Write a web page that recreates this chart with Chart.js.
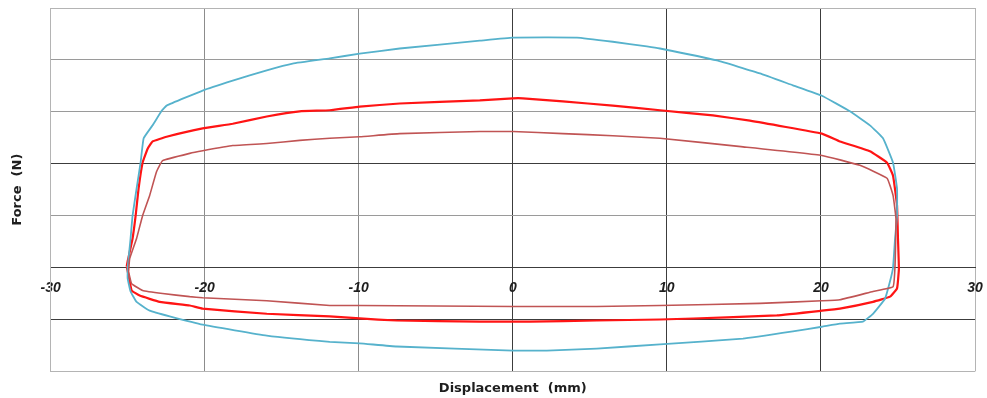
<!DOCTYPE html>
<html>
<head>
<meta charset="utf-8">
<script src="https://cdn.jsdelivr.net/npm/chart.js@4"></script>
<style>
    html, body { margin: 0; padding: 0; background: #fff; }
    #wrap { width: 987px; height: 398px; }
</style>
</head>
<body>
<div id="wrap"><canvas id="loopChart" width="987" height="398"></canvas></div>
<script>
// ===== Data =====
const xTicks = [-30, -20, -10, 0, 10, 20, 30];

// Outer loop (light blue)
const dispCyan = [-25.0, -24.81, -24.68, -24.42, -24.16, -23.96, -23.38, -22.79, -22.47, -20.13, -18.18, -15.97, -14.29, -11.88, -9.94, -7.34, -2.14, 0, 4.16, 6.49, 8.70, 9.55, 13.25, 16.04, 18.18, 20.06, 21.88, 23.18, 24.03, 24.68, 24.94, 24.94, 24.81, 24.68, 24.48, 24.16, 23.38, 22.73, 21.23, 20.06, 18.18, 14.94, 9.55, 5.45, 2.21, 0, -7.53, -9.94, -11.88, -15.97, -20.13, -22.27, -23.57, -24.42, -24.81, -25.0, -25.0];
const forceCyan = [0, 0.56, 1.00, 1.52, 2.02, 2.49, 2.74, 3.02, 3.12, 3.41, 3.60, 3.80, 3.93, 4.03, 4.12, 4.22, 4.37, 4.43, 4.43, 4.35, 4.26, 4.22, 3.99, 3.74, 3.51, 3.31, 3.01, 2.74, 2.49, 2.02, 1.52, 1.00, 0.56, 0, -0.27, -0.60, -0.89, -1.04, -1.08, -1.14, -1.23, -1.37, -1.48, -1.56, -1.60, -1.60, -1.52, -1.46, -1.43, -1.31, -1.10, -0.94, -0.83, -0.66, -0.46, -0.21, 0];

// Middle loop (red)
const dispRed = [-25.06, -25.0, -24.68, -24.48, -24.29, -24.03, -23.70, -23.38, -22.47, -20.13, -18.18, -15.97, -13.83, -11.88, -9.94, -7.34, -2.14, 0, 0.65, 3.25, 6.49, 9.55, 12.99, 15.39, 20.06, 21.23, 23.18, 24.29, 24.68, 24.94, 25.0, 25.06, 24.94, 24.48, 23.38, 21.23, 20.06, 17.14, 13.90, 9.55, 5.45, 1.10, -2.14, -7.53, -9.94, -11.88, -15.97, -20.13, -20.97, -22.92, -24.22, -24.74, -24.94, -25.06];
const forceRed = [0.02, 0.12, 0.56, 1.00, 1.52, 2.02, 2.29, 2.43, 2.52, 2.68, 2.77, 2.91, 3.01, 3.03, 3.10, 3.16, 3.22, 3.26, 3.26, 3.20, 3.12, 3.03, 2.93, 2.83, 2.58, 2.43, 2.24, 2.02, 1.77, 1.19, 0.56, -0.02, -0.40, -0.56, -0.66, -0.79, -0.83, -0.92, -0.96, -1.00, -1.02, -1.04, -1.04, -1.02, -0.98, -0.94, -0.89, -0.79, -0.73, -0.66, -0.54, -0.44, -0.15, 0.02];

// Inner loop (dark red)
const dispDark = [-24.94, -24.87, -24.42, -24.03, -23.57, -23.12, -22.73, -20.97, -20.13, -18.18, -15.97, -13.83, -11.88, -9.94, -7.34, -2.14, 0, 3.25, 6.49, 9.55, 14.81, 20.06, 22.53, 24.29, 24.68, 24.87, 24.81, 24.68, 23.38, 21.23, 20.06, 16.04, 9.55, 5.45, 0, -9.94, -11.88, -15.97, -20.13, -20.97, -22.73, -24.03, -24.74, -24.94];
const forceDark = [-0.08, 0.17, 0.56, 1.00, 1.39, 1.85, 2.06, 2.20, 2.25, 2.35, 2.39, 2.45, 2.49, 2.52, 2.58, 2.62, 2.62, 2.58, 2.54, 2.49, 2.33, 2.16, 1.97, 1.72, 1.39, 0.94, 0.04, -0.37, -0.46, -0.62, -0.64, -0.69, -0.73, -0.75, -0.75, -0.73, -0.73, -0.64, -0.58, -0.56, -0.50, -0.44, -0.31, -0.08];

// ===== Helpers =====
function toPoints(xs, ys) {
    return xs.map((x, i) => ({ x: x, y: ys[i] }));
}

function xGridColor(value) {
    if (value === -30 || value === 30) return '#b4b4b4';
    if (value < 0) return '#8c8c8c';
    return '#3c3c3c';
}

function yGridColor(value) {
    if (value === 5 || value === -2) return '#b4b4b4';
    if (value === 2 || value === 0 || value === -1) return '#3c3c3c';
    return '#9a9a9a';
}

const titleFont = { family: 'DejaVu Sans, sans-serif', size: 13, weight: 'bold' };

// ===== Chart =====
const ctx = document.getElementById('loopChart');

new Chart(ctx, {
    type: 'scatter',
    data: {
        datasets: [
            {
                label: 'Inner',
                data: toPoints(dispDark, forceDark),
                showLine: true,
                borderColor: 'rgba(192, 84, 84, 1)',
                borderWidth: 1.6,
                tension: 0.1,
                pointRadius: 0
            },
            {
                label: 'Outer',
                data: toPoints(dispCyan, forceCyan),
                showLine: true,
                borderColor: 'rgba(86, 178, 204, 1)',
                borderWidth: 1.8,
                tension: 0.1,
                pointRadius: 0
            },
            {
                label: 'Middle',
                data: toPoints(dispRed, forceRed),
                showLine: true,
                borderColor: 'rgba(255, 20, 20, 1)',
                borderWidth: 2.2,
                tension: 0.1,
                pointRadius: 0
            }
        ]
    },
    options: {
        responsive: false,
        animation: false,
        layout: {
            padding: { left: 6, right: 12, top: 8, bottom: 0 }
        },
        plugins: {
            legend: { display: false },
            tooltip: { enabled: false }
        },
        scales: {
            x: {
                type: 'linear',
                min: -30,
                max: 30,
                position: { y: 0 },
                afterBuildTicks: function(axis) {
                    axis.ticks = xTicks.map(v => ({ value: v }));
                },
                ticks: {
                    color: '#1e1e1e',
                    padding: 4,
                    // tall line height pushes the labels down without widening the side padding
                    font: { family: 'Liberation Sans, Arial, sans-serif', size: 14, weight: 'bold', style: 'italic', lineHeight: 2.4 }
                },
                grid: {
                    drawTicks: false,
                    color: function(c) { return xGridColor(c.tick.value); }
                },
                border: { display: true, color: '#3c3c3c' }
            },
            xTitle: {
                type: 'linear',
                min: -30,
                max: 30,
                position: 'bottom',
                ticks: { display: false },
                grid: { display: false, drawTicks: false },
                border: { display: false },
                title: {
                    display: true,
                    text: 'Displacement  (mm)',
                    color: '#1e1e1e',
                    padding: { top: 9, bottom: 2 },
                    font: titleFont
                }
            },
            y: {
                type: 'linear',
                min: -2,
                max: 5,
                ticks: { display: false, stepSize: 1 },
                grid: {
                    drawTicks: false,
                    color: function(c) { return yGridColor(c.tick.value); }
                },
                border: { display: true, color: '#b4b4b4' },
                title: {
                    display: true,
                    text: 'Force  (N)',
                    color: '#1e1e1e',
                    padding: { top: 4, bottom: 25 },
                    font: titleFont
                }
            }
        }
    }
});
</script>
</body>
</html>
